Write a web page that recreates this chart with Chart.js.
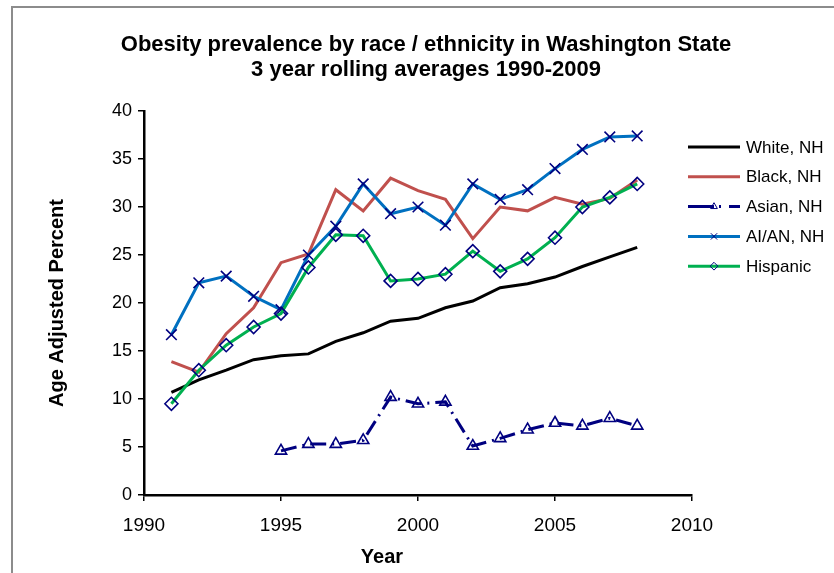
<!DOCTYPE html>
<html>
<head>
<meta charset="utf-8">
<title>Obesity prevalence by race / ethnicity in Washington State</title>
<script src="https://cdn.jsdelivr.net/npm/chart.js@4.4.1/dist/chart.umd.min.js"></script>
<style>
  html, body { margin: 0; padding: 0; background: #fff; overflow: hidden; }
  #wrap { position: relative; width: 834px; height: 573px; }
  #frame { position: absolute; left: 11px; top: 6px; width: 900px; height: 700px;
           border: 2px solid #8c8c8c; box-sizing: border-box; pointer-events: none; }
  #c { position: absolute; left: 0; top: 0; }
</style>
</head>
<body>
<div id="wrap">
  <div id="frame"></div>
  <canvas id="c" width="834" height="573"></canvas>
</div>
<script>
// 3-year rolling averages, centred year
const years = [1991, 1992, 1993, 1994, 1995, 1996, 1997, 1998, 1999,
               2000, 2001, 2002, 2003, 2004, 2005, 2006, 2007, 2008];

const whiteNH  = [10.7, 12.0, 13.0, 14.1, 14.5, 14.7, 16.0, 16.9, 18.1,
                  18.4, 19.5, 20.2, 21.6, 22.0, 22.7, 23.8, 24.8, 25.8];
const blackNH  = [13.9, 12.8, 16.8, 19.5, 24.2, 25.1, 31.8, 29.6, 33.0,
                  31.7, 30.8, 26.7, 30.0, 29.6, 31.0, 30.3, 30.9, 32.8];
const asianNH  = [null, null, null, null, 4.6, 5.3, 5.3, 5.7, 10.2,
                  9.5, 9.7, 5.1, 5.9, 6.8, 7.5, 7.2, 8.0, 7.2];
const aianNH   = [16.7, 22.1, 22.8, 20.7, 19.3, 25.0, 28.0, 32.4, 29.3,
                  30.0, 28.1, 32.4, 30.8, 31.8, 34.0, 36.0, 37.3, 37.4];
const hispanic = [9.5, 13.0, 15.6, 17.5, 18.9, 23.7, 27.1, 27.0, 22.3,
                  22.5, 23.0, 25.4, 23.3, 24.6, 26.8, 30.0, 31.0, 32.4];

const seriesNames = ['White, NH', 'Black, NH', 'Asian, NH', 'AI/AN, NH', 'Hispanic'];
const titleLines = ['Obesity prevalence by race / ethnicity in Washington State',
                    '3 year rolling averages 1990-2009'];
const xAxisTitle = 'Year';
const yAxisTitle = 'Age Adjusted Percent';
const xTicks = { min: 1990, max: 2010, step: 5 };
const yTicks = { min: 0, max: 40, step: 5 };

const MARKER = '#000080';
const FONT = '"Liberation Sans", Arial, sans-serif';

function pts(values) {
  return years.map((x, i) => ({ x: x, y: values[i] }));
}

function series(label, values, color, extra) {
  return Object.assign({
    label: label,
    data: pts(values),
    borderColor: color,
    backgroundColor: color,
    borderWidth: 3,
    tension: 0,
    pointRadius: 0,
    pointHoverRadius: 0,
    pointBorderColor: MARKER,
    pointBackgroundColor: 'rgba(0,0,0,0)',
    pointBorderWidth: 1.6,
    spanGaps: false
  }, extra || {});
}

const datasets = [
  series(seriesNames[0], whiteNH, '#000000', { order: 5 }),
  series(seriesNames[1], blackNH, '#C0504D', { order: 4 }),
  series(seriesNames[2], asianNH, '#000080', { order: 3, borderDash: [16, 6, 2, 6],
         pointStyle: 'triangle', pointRadius: 6.5 }),
  series(seriesNames[3], aianNH, '#0070C0', { order: 2, pointStyle: 'crossRot', pointRadius: 7.5 }),
  series(seriesNames[4], hispanic, '#00B050', { order: 1, pointStyle: 'rectRot', pointRadius: 6.5 })
];

// Chart title, x-axis title and the legend at the right
const decorations = {
  id: 'decorations',
  afterDraw(chart) {
    const ctx = chart.ctx;
    ctx.save();
    ctx.fillStyle = '#000';
    ctx.textAlign = 'center';
    ctx.textBaseline = 'middle';
    ctx.font = 'bold 22px ' + FONT;
    titleLines.forEach((line, i) => ctx.fillText(line, 426, 45 + i * 25));

    ctx.font = 'bold 20px ' + FONT;
    ctx.fillText(xAxisTitle, 382, 557);

    // legend
    ctx.font = '17px ' + FONT;
    ctx.textAlign = 'left';
    chart.data.datasets.forEach((ds, i) => {
      const y = 147 + i * 29.8;
      ctx.save();
      ctx.strokeStyle = ds.borderColor;
      ctx.lineWidth = ds.borderWidth;
      ctx.setLineDash(ds.borderDash ? [26, 5, 2, 8, 12] : []);
      ctx.beginPath();
      ctx.moveTo(688, y);
      ctx.lineTo(740, y);
      ctx.stroke();
      ctx.restore();
      if (ds.pointStyle && ds.pointRadius > 0) {
        ctx.save();
        ctx.strokeStyle = MARKER;
        ctx.fillStyle = 'rgba(0,0,0,0)';
        Chart.helpers.drawPoint(ctx, {
          pointStyle: ds.pointStyle, rotation: 0,
          radius: ds.pointRadius * 0.6, borderWidth: 1.5
        }, 714, y);
        ctx.restore();
      }
      ctx.fillStyle = '#000';
      ctx.fillText(ds.label, 746, y + 1);
    });
    ctx.restore();
  }
};

new Chart(document.getElementById('c'), {
  type: 'line',
  data: { datasets: datasets },
  plugins: [decorations],
  options: {
    responsive: false,
    animation: false,
    events: [],
    layout: { padding: { top: 111, right: 142, left: 0, bottom: 0 } },
    plugins: {
      legend: { display: false },
      title: { display: false },
      tooltip: { enabled: false }
    },
    scales: {
      x: {
        type: 'linear',
        min: xTicks.min,
        max: xTicks.max,
        afterFit(scale) { scale.height = 78; },
        ticks: {
          stepSize: xTicks.step,
          color: '#000',
          font: { family: FONT, size: 19 },
          padding: 13,
          maxRotation: 0,
          callback: (v) => String(v)
        },
        grid: { drawOnChartArea: false, drawTicks: true, tickLength: 6, color: '#000', lineWidth: 1.5 },
        border: { display: true, color: '#000', width: 2.5 }
      },
      y: {
        min: yTicks.min,
        max: yTicks.max,
        afterFit(scale) { scale.width = 144; },
        ticks: {
          stepSize: yTicks.step,
          color: '#000',
          font: { family: FONT, size: 18 },
          padding: 6
        },
        grid: { drawOnChartArea: false, drawTicks: true, tickLength: 6, color: '#000', lineWidth: 1.5 },
        border: { display: true, color: '#000', width: 2.5 },
        title: {
          display: true,
          text: yAxisTitle,
          color: '#000',
          font: { family: FONT, size: 20, weight: 'bold' },
          padding: { top: 45, bottom: 0 }
        }
      }
    }
  }
});
</script>
</body>
</html>
